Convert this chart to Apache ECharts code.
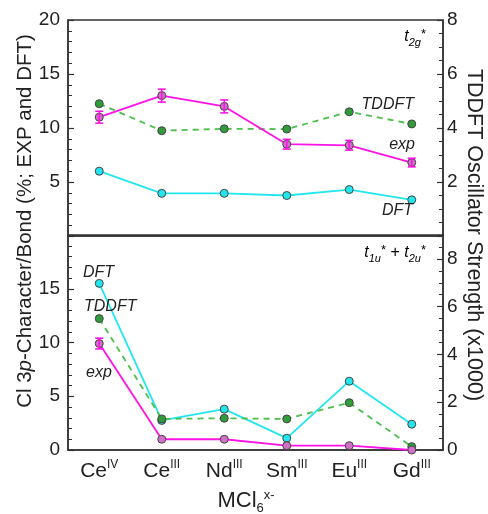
<!DOCTYPE html>
<html><head><meta charset="utf-8">
<script src="https://cdn.jsdelivr.net/npm/echarts@6/dist/echarts.min.js"></script>
<style>html,body{margin:0;padding:0;background:#fff}#c{width:488px;height:514px}</style>
</head><body><div id="c"></div>
<script>
// ---- data ----
const elements = ['Ce', 'Ce', 'Nd', 'Sm', 'Eu', 'Gd'];
const oxStates = ['IV', 'III', 'III', 'III', 'III', 'III'];
const categories = elements.map((e, i) => e + oxStates[i]);

// t2g* panel
const t2gExp = [11.0, 13.0, 12.0, 8.5, 8.4, 6.8];
const t2gExpErr = [0.55, 0.6, 0.6, 0.45, 0.45, 0.4];
const t2gDFT = [6.0, 3.95, 3.95, 3.75, 4.3, 3.35];
const t2gTDDFT = [4.9, 3.9, 3.97, 3.96, 4.6, 4.15];

// t1u* + t2u* panel
const tuExp = [9.9, 1.0, 1.0, 0.4, 0.4, 0.0];
const tuExpErr = [0.5, 0, 0, 0, 0, 0];
const tuDFT = [15.5, 2.75, 3.8, 1.1, 6.4, 2.4];
const tuTDDFT = [5.5, 1.3, 1.33, 1.3, 1.98, 0.14];

const leftTicksTop = [5, 10, 15, 20];
const leftTicksBot = [0, 5, 10, 15];
const rightTicksTop = [2, 4, 6, 8];
const rightTicksBot = [0, 2, 4, 6, 8];

// ---- styles ----
const FONT = '"Liberation Sans", Arial, sans-serif';
const AX = '#333';
const MAG = '#ff12e6';
const CYAN = '#22e6ee';
const GREENL = '#4cbf4c';
const GREENM = '#2f9b3b';

const chart = echarts.init(document.getElementById('c'), null, {renderer: 'canvas'});

function yAxisCfg(gridIndex, pos, max, interval, minorSplit, shown) {
  return {
    type: 'value', gridIndex: gridIndex, position: pos, min: 0, max: max, interval: interval,
    axisLine: {show: true, lineStyle: {color: AX, width: 1.5}},
    axisTick: {show: true, inside: true, length: 6, lineStyle: {color: AX, width: 1.2}},
    minorTick: {show: true, splitNumber: minorSplit, length: 4, lineStyle: {color: AX, width: 1}},
    splitLine: {show: false},
    axisLabel: {
      fontFamily: FONT, fontSize: 19, color: '#222', margin: pos === 'left' ? 8 : 4,
      formatter: v => shown.indexOf(v) >= 0 ? String(v) : ''
    }
  };
}
function xAxisCfg(gridIndex, showLabels) {
  return {
    type: 'category', gridIndex: gridIndex, data: categories, boundaryGap: true,
    axisLine: {show: true, lineStyle: {color: AX, width: 1.5}},
    axisTick: {show: false},
    axisLabel: showLabels ? {
      margin: 9, interval: 0,
      formatter: (v, i) => elements[i] + '{s|' + oxStates[i] + '}',
      color: '#222', fontFamily: FONT, fontSize: 21, lineHeight: 24,
      rich: {s: {fontFamily: FONT, fontSize: 12, color: '#222', verticalAlign: 'top', lineHeight: 24, padding: [0, 0, 6, 0]}}
    } : {show: false}
  };
}

function errRender(params, api) {
  const i = api.value(0), v = api.value(1), e = api.value(2);
  if (!e) return null;
  const lo = api.coord([i, v - e]);
  const hi = api.coord([i, v + e]);
  const w = 4;
  const st = {stroke: MAG, lineWidth: 1.6};
  return {type: 'group', children: [
    {type: 'line', shape: {x1: lo[0], y1: lo[1], x2: hi[0], y2: hi[1]}, style: st},
    {type: 'line', shape: {x1: lo[0] - w, y1: lo[1], x2: lo[0] + w, y2: lo[1]}, style: st},
    {type: 'line', shape: {x1: hi[0] - w, y1: hi[1], x2: hi[0] + w, y2: hi[1]}, style: st}
  ]};
}

function lineSeries(name, data, xi, yi, color, mColor, dashed) {
  return {
    type: 'line', name: name, data: data, xAxisIndex: xi, yAxisIndex: yi,
    symbol: 'circle', symbolSize: 8, showSymbol: true,
    lineStyle: {color: color, width: 1.8, type: dashed ? [6, 5] : 'solid'},
    itemStyle: {color: mColor, borderColor: '#444', borderWidth: 1},
    z: 3, animation: false
  };
}

const lab = {fontFamily: FONT, fontSize: 16, fontStyle: 'italic', fill: '#222'};
const richLab = {
  b: {fontFamily: FONT, fontSize: 16, fontStyle: 'italic', lineHeight: 22, verticalAlign: 'middle', color: '#222'},
  sub: {fontFamily: FONT, fontSize: 11, fontStyle: 'italic', lineHeight: 22, verticalAlign: 'bottom', color: '#222'},
  sup: {fontFamily: FONT, fontSize: 13, lineHeight: 22, verticalAlign: 'top', color: '#222', padding: [2, 0, 0, 0]},
  n: {fontFamily: FONT, fontSize: 16, lineHeight: 22, verticalAlign: 'middle', color: '#222'}
};
function txt(x, y, t, align) {
  return {type: 'text', x: x, y: y, style: Object.assign({text: t, textAlign: align || 'left', textVerticalAlign: 'middle'}, lab), z: 10};
}

const option = {
  backgroundColor: '#fff',
  animation: false,
  grid: [
    {left: 68, top: 20, width: 375, height: 216, show: true, borderColor: AX, borderWidth: 1.5, backgroundColor: 'transparent'},
    {left: 68, top: 235, width: 375, height: 215, show: true, borderColor: AX, borderWidth: 1.5, backgroundColor: 'transparent'}
  ],
  xAxis: [xAxisCfg(0, false), xAxisCfg(1, true)],
  yAxis: [
    yAxisCfg(0, 'left', 20, 5, 5, leftTicksTop),
    yAxisCfg(0, 'right', 8, 2, 4, rightTicksTop),
    yAxisCfg(1, 'left', 20, 5, 5, leftTicksBot),
    yAxisCfg(1, 'right', 9, 2, 4, rightTicksBot)
  ],
  series: [
    lineSeries('DFT', t2gDFT, 0, 0, CYAN, CYAN, false),
    lineSeries('TDDFT', t2gTDDFT, 0, 1, GREENL, GREENM, true),
    lineSeries('exp', t2gExp, 0, 0, MAG, '#d070c8', false),
    {type: 'custom', xAxisIndex: 0, yAxisIndex: 0, renderItem: errRender, z: 4,
      data: t2gExp.map((v, i) => [i, v, t2gExpErr[i]]), animation: false},
    lineSeries('DFT', tuDFT, 1, 2, CYAN, CYAN, false),
    lineSeries('TDDFT', tuTDDFT, 1, 3, GREENL, GREENM, true),
    lineSeries('exp', tuExp, 1, 2, MAG, '#d070c8', false),
    {type: 'custom', xAxisIndex: 1, yAxisIndex: 2, renderItem: errRender, z: 4,
      data: tuExp.map((v, i) => [i, v, tuExpErr[i]]), animation: false}
  ],
  graphic: [
    // axis titles
    {type: 'text', x: 25, y: 221, rotation: Math.PI / 2, z: 10,
      style: {text: 'Cl 3{i|p}-Character/Bond (%; EXP and DFT)', textAlign: 'center', textVerticalAlign: 'middle',
        fontFamily: FONT, fontSize: 20.5, fill: '#222',
        rich: {i: {fontFamily: FONT, fontSize: 20.5, fontStyle: 'italic', color: '#222'}}}},
    {type: 'text', x: 474, y: 235, rotation: -Math.PI / 2, z: 10,
      style: {text: 'TDDFT Oscillator Strength (x1000)', textAlign: 'center', textVerticalAlign: 'middle',
        fontFamily: FONT, fontSize: 21.5, fill: '#222'}},
    {type: 'text', x: 246, y: 501, z: 10,
      style: {text: 'MCl{sub|6}{sup|x-}', textAlign: 'center', textVerticalAlign: 'middle',
        fontFamily: FONT, fontSize: 22, fill: '#222', lineHeight: 24,
        rich: {
          sub: {fontFamily: FONT, fontSize: 13, color: '#222', verticalAlign: 'bottom', lineHeight: 24, padding: [0, 0, -2, 0]},
          sup: {fontFamily: FONT, fontSize: 13, color: '#222', verticalAlign: 'top', lineHeight: 24, padding: [0, 0, 4, 0]}
        }}},
    // panel labels
    {type: 'text', x: 426, y: 37, z: 10,
      style: {text: '{b|t}{sub|2g}{sup|*}', textAlign: 'right', textVerticalAlign: 'middle', rich: richLab}},
    {type: 'text', x: 426, y: 253, z: 10,
      style: {text: '{b|t}{sub|1u}{sup|*}{n| + }{b|t}{sub|2u}{sup|*}', textAlign: 'right', textVerticalAlign: 'middle', rich: richLab}},
    txt(414, 105, 'TDDFT', 'right'),
    txt(415, 145, 'exp', 'right'),
    txt(413, 211, 'DFT', 'right'),
    txt(83, 273, 'DFT', 'left'),
    txt(84, 307, 'TDDFT', 'left'),
    txt(86, 373, 'exp', 'left')
  ]
};
chart.setOption(option);
</script>
</body></html>
